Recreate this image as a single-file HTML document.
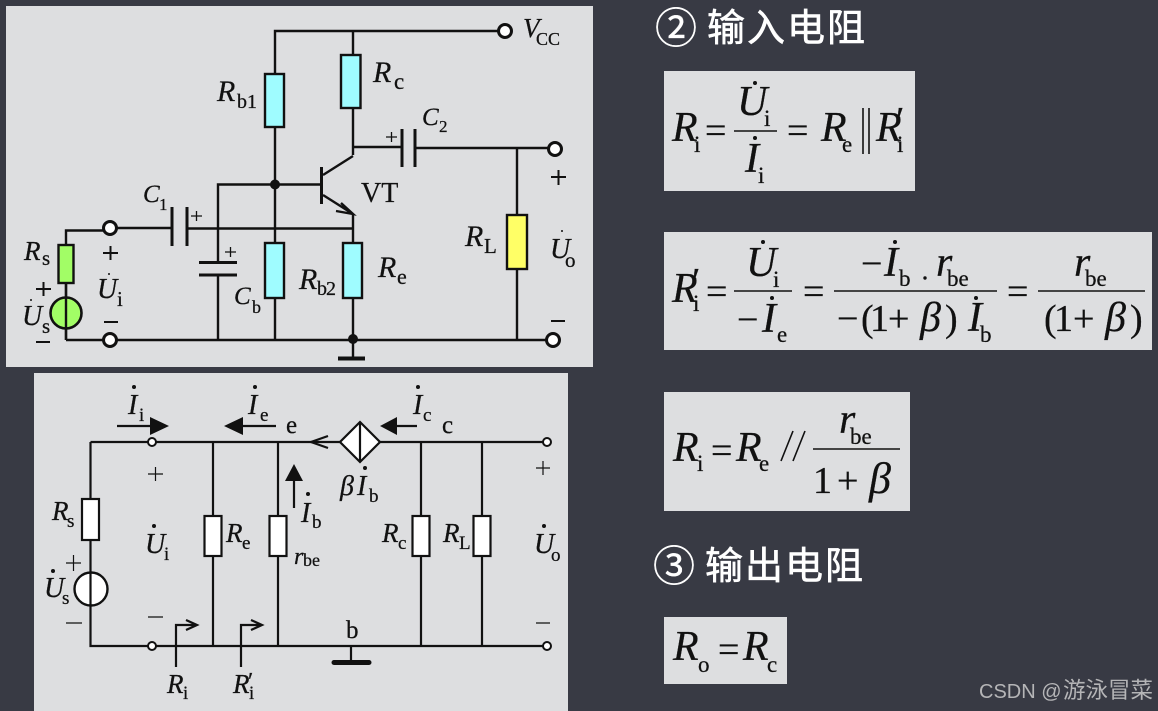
<!DOCTYPE html>
<html><head><meta charset="utf-8"><style>
html,body{margin:0;padding:0;background:#383a44;width:1158px;height:711px;overflow:hidden}
svg{display:block}
text{font-family:"Liberation Serif","Noto Serif CJK SC",serif;fill:#111;stroke:#111;stroke-width:.25}
.i{font-style:italic}
.l{stroke:#111;stroke-width:2.4;fill:none}
.t{stroke:#111;stroke-width:2.2;fill:none}
.n{stroke:#111;stroke-width:1.2;fill:none}
.f{stroke:#111;stroke-width:1.6;fill:none}
text.h{font-family:"Liberation Sans","Noto Sans CJK SC",sans-serif;fill:#fff;stroke:#fff;stroke-width:.6;font-size:38px;letter-spacing:2px}
text.c{font-family:"Liberation Sans","Noto Sans CJK SC",sans-serif;fill:#fff;stroke:#fff;stroke-width:.4;font-size:42px}
.k{font-size:38px}
.r{font-size:42px}
.s{font-size:23px}
text.w{font-family:"Liberation Sans","Noto Sans CJK SC",sans-serif;fill:#b5b5b7;stroke:none}
</style></head><body>
<svg width="1158" height="711" viewBox="0 0 1158 711" xmlns="http://www.w3.org/2000/svg">
<rect width="1158" height="711" fill="#383a44"/>
<rect x="6" y="6" width="587" height="361" fill="#dddee0"/>
<rect x="34" y="373" width="534" height="338" fill="#dddee0"/>
<rect x="664" y="71" width="251" height="120" fill="#dddee0"/>
<rect x="664" y="232" width="488" height="118" fill="#dddee0"/>
<rect x="664" y="392" width="246" height="119" fill="#dddee0"/>
<rect x="664" y="617" width="123" height="67" fill="#dddee0"/>

<!-- Panel 1 -->
<path class="l" d="M275 184V31H505M353 31V155M320 184.500H218V262M218 275V340M275 184V340M353 214V340M66 340H553M66 340V230.500H105M113 228H172M188 228.500H353M353 147H401M415 148H548M517 148V340M353 340V358"/>
<rect x="265" y="74" width="19" height="53" class="l" style="fill:#9ffcff"/>
<rect x="341" y="55" width="19.500" height="53" class="l" style="fill:#9ffcff"/>
<rect x="265" y="243" width="19" height="55" class="l" style="fill:#9ffcff"/>
<rect x="343" y="243" width="19" height="55" class="l" style="fill:#9ffcff"/>
<rect x="507" y="215" width="20" height="54" class="l" style="fill:#ffff66"/>
<rect x="58.500" y="245" width="15" height="38" class="l" style="fill:#a2fd66"/>
<circle cx="66" cy="313" r="15.500" fill="#a2fd66" stroke="#111" stroke-width="2.600"/>
<path class="l" d="M66 283V340"/>
<g fill="#fff" stroke="#111" stroke-width="3">
<circle cx="505" cy="31" r="6.500"/><circle cx="555" cy="149" r="6.500"/><circle cx="553" cy="340" r="6.500"/><circle cx="110" cy="228" r="6.500"/><circle cx="110" cy="340" r="6.500"/>
</g>
<circle cx="275" cy="184.500" r="5" fill="#111"/><circle cx="353" cy="339" r="5" fill="#111"/>
<path stroke="#111" stroke-width="3" fill="none" d="M172 207V246M187 207V246M402 129V167M415 129V167M199 262.500H237M199 275H237M321.500 167V204"/>
<path stroke="#111" stroke-width="4" fill="none" d="M338 358.500H365"/>
<path class="l" d="M323 175L353 156M323 195L353 214M336 211L353 214L341 203"/>
<path stroke="#111" stroke-width="2" fill="none" d="M551 177H566M558.500 170V185M551 321H565M36 289H51M43.500 282V296M36 342H50M103 253H118M110.500 246V260M104 322H118"/>
<path stroke="#111" stroke-width="1.300" fill="none" d="M191 216H202M196.500 211V221M225 252H236M230.500 247V257M386 137H397M391.500 132V142"/>

<text class="i" x="217" y="101" font-size="30">R</text><text x="237" y="108" font-size="20">b1</text>
<text class="i" x="373" y="82" font-size="30">R</text><text x="394" y="89" font-size="23">c</text>
<text class="i" x="523" y="37" font-size="27">V</text><text x="536" y="45" font-size="18">CC</text>
<text class="i" x="422" y="125" font-size="25">C</text><text x="439" y="132" font-size="17">2</text>
<text x="361" y="202" font-size="28">VT</text>
<text class="i" x="465" y="246" font-size="30">R</text><text x="484" y="253" font-size="21">L</text>
<text class="i" x="550" y="258" font-size="28">U</text><text x="565" y="267" font-size="21">o</text><circle cx="562" cy="231" r="1" fill="#111"/>
<text class="i" x="378" y="277" font-size="30">R</text><text x="397" y="284" font-size="22">e</text>
<text class="i" x="299" y="289" font-size="30">R</text><text x="317" y="295" font-size="20" letter-spacing="-1">b2</text>
<text class="i" x="143" y="202" font-size="25">C</text><text x="159" y="210" font-size="17">1</text>
<text class="i" x="234" y="304" font-size="25">C</text><text x="252" y="313" font-size="18">b</text>
<text class="i" x="24" y="260" font-size="27">R</text><text x="42" y="265" font-size="21">s</text>
<text class="i" x="22" y="325" font-size="28">U</text><text x="42" y="333" font-size="21">s</text><circle cx="31" cy="300" r="1" fill="#111"/>
<text class="i" x="97" y="298" font-size="28">U</text><text x="117" y="306" font-size="21">i</text><circle cx="109" cy="274" r="1" fill="#111"/>

<!-- Panel 2 -->
<path class="t" d="M90.500 442H340M380 442H543M90.500 442V646H543M213 442V646M278 442V646M421 442V646M482 442V646M351 646V660"/>
<rect x="82" y="499" width="17" height="41" class="t" style="fill:#fff"/>
<rect x="204.500" y="516" width="17" height="40" class="t" style="fill:#fff"/>
<rect x="269.500" y="516" width="17" height="40" class="t" style="fill:#fff"/>
<rect x="412.500" y="516" width="17" height="40" class="t" style="fill:#fff"/>
<rect x="473.500" y="516" width="17" height="40" class="t" style="fill:#fff"/>
<circle cx="91" cy="589" r="16.500" fill="#fff" stroke="#111" stroke-width="2.400"/>
<path class="t" d="M90.500 572V606"/>
<path d="M360 422L380 442L360 462L340 442Z" class="t" style="fill:#fff"/>
<path class="t" d="M360 422V462M328 436L311 442L328 448"/>
<g fill="#fff" stroke="#111" stroke-width="2"><circle cx="152" cy="442" r="4"/><circle cx="152" cy="646" r="4"/><circle cx="547" cy="442" r="4"/><circle cx="547" cy="646" r="4"/></g>
<path stroke="#111" stroke-width="5" stroke-linecap="round" d="M334 662.500H369"/>
<path class="t" d="M117 426H152M276 426H240M417 426H395M294 508V478"/>
<path fill="#111" d="M150 417L169 426L150 435ZM243 417L224 426L243 435ZM397 417L380 426L397 435ZM285 481L294 464L303 481Z"/>
<path class="t" d="M176 667V625H196M241 667V625H261M186 620L197 625L186 630M251 620L262 625L251 630"/>
<path class="n" d="M148 474H163M155.500 467V481M148 617H163M66 563H81M73.500 555V571M66 623H82M536 468H550M543 461V475M536 623H550"/>

<g fill="#111">
<circle cx="134" cy="387" r="2"/><circle cx="255" cy="387" r="2"/><circle cx="154" cy="526" r="2"/><circle cx="53" cy="571" r="2"/><circle cx="308" cy="494" r="2"/><circle cx="365" cy="468" r="2"/><circle cx="418" cy="387" r="2"/><circle cx="544" cy="526" r="2"/>
</g>
<text class="i" x="128" y="414" font-size="28">I</text><text x="139" y="421" font-size="19">i</text>
<text class="i" x="248" y="414" font-size="28">I</text><text x="260" y="421" font-size="19">e</text>
<text x="286" y="433" font-size="25">e</text>
<text class="i" x="145" y="553" font-size="28">U</text><text x="164" y="560" font-size="19">i</text>
<text class="i" x="52" y="520" font-size="27">R</text><text x="67" y="527" font-size="19">s</text>
<text class="i" x="44" y="597" font-size="28">U</text><text x="62" y="604" font-size="19">s</text>
<text class="i" x="226" y="542" font-size="27">R</text><text x="242" y="549" font-size="19">e</text>
<text class="i" x="167" y="693" font-size="27">R</text><text x="183" y="699" font-size="19">i</text>
<text class="i" x="233" y="693" font-size="27">R</text><text x="249" y="699" font-size="19">i</text><text x="248" y="689" font-size="24">′</text>
<text class="i" x="301" y="522" font-size="28">I</text><text x="312" y="528" font-size="19">b</text>
<text class="i" x="294" y="564" font-size="24">r</text><text x="303" y="566" font-size="18">be</text>
<text class="i" x="340" y="495" font-size="28">β</text><text class="i" x="357" y="495" font-size="28">I</text><text x="369" y="502" font-size="19">b</text>
<text class="i" x="413" y="414" font-size="28">I</text><text x="423" y="421" font-size="19">c</text>
<text x="442" y="433" font-size="25">c</text>
<text class="i" x="382" y="542" font-size="27">R</text><text x="398" y="549" font-size="19">c</text>
<text class="i" x="443" y="542" font-size="27">R</text><text x="459" y="549" font-size="19">L</text>
<text class="i" x="534" y="553" font-size="28">U</text><text x="551" y="561" font-size="19">o</text>
<text x="346" y="638" font-size="25">b</text>

<!-- Headings -->
<text class="c" x="655" y="43">②</text><text class="h" x="707" y="41">输入电阻</text>
<text class="c" x="653" y="581">③</text><text class="h" x="705" y="579">输出电阻</text>
<text class="w" x="979" y="698" font-size="20">CSDN @</text><text class="w" x="1063" y="698" font-size="22.500">游泳冒菜</text>

<!-- Formula 1 -->
<g fill="#111"><circle cx="755" cy="83" r="2"/><circle cx="755" cy="138" r="2"/><circle cx="763" cy="242" r="2"/><circle cx="772" cy="298" r="2"/><circle cx="895" cy="242" r="2"/><circle cx="925" cy="278" r="1.700"/><circle cx="976" cy="298" r="2"/></g>
<text class="i r" x="672" y="141">R</text><text class="s" x="694" y="152">i</text>
<text class="k" x="705" y="143">=</text>
<path class="f" d="M734 131H777"/>
<text class="i r" x="737" y="115">U</text><text class="s" x="764" y="126">i</text>
<text class="i r" x="745" y="172">I</text><text class="s" x="758" y="183">i</text>
<text class="k" x="787" y="143">=</text>
<text class="i r" x="821" y="141">R</text><text class="s" x="842" y="152">e</text>
<path class="f" d="M863 108V154M869 108V154"/>
<text class="i r" x="876" y="141">R</text><text class="s" x="897" y="152">i</text><text class="k" x="896" y="133">′</text>

<!-- Formula 2 -->
<text class="i r" x="672" y="302">R</text><text class="s" x="693" y="311">i</text><text class="k" x="692" y="294">′</text>
<text class="k" x="706" y="304">=</text>
<path class="f" d="M734 291H792M834 291H997M1038 291H1145"/>
<text class="i r" x="746" y="276">U</text><text class="s" x="773" y="287">i</text>
<text class="k" x="737" y="332">−</text><text class="i r" x="762" y="332">I</text><text class="s" x="777" y="342">e</text>
<text class="k" x="803" y="304">=</text>
<text class="k" x="861" y="276">−</text><text class="i r" x="884" y="276">I</text><text class="s" x="899" y="286">b</text>
<text class="i r" x="936" y="276">r</text><text class="s" x="947" y="286">be</text>
<text class="k" x="837" y="331">−</text><text class="k" x="861" y="331">(</text><text class="k" x="870" y="331">1</text><text class="k" x="888" y="331">+</text><text class="i" x="920" y="331" font-size="42">β</text><text class="k" x="945" y="331">)</text>
<text class="i r" x="968" y="331">I</text><text class="s" x="980" y="342">b</text>
<text class="k" x="1007" y="304">=</text>
<text class="i r" x="1074" y="276">r</text><text class="s" x="1085" y="286">be</text>
<text class="k" x="1044" y="331">(</text><text class="k" x="1054" y="331">1</text><text class="k" x="1073" y="331">+</text><text class="i" x="1105" y="331" font-size="42">β</text><text class="k" x="1130" y="331">)</text>

<!-- Formula 3 -->
<text class="i r" x="673" y="461">R</text><text class="s" x="697" y="471">i</text>
<text class="k" x="711" y="463">=</text>
<text class="i r" x="736" y="461">R</text><text class="s" x="759" y="471">e</text>
<path class="f" d="M781 461L793 431M793 461L805 431"/>
<path class="f" d="M813 449H900"/>
<text class="i r" x="839" y="433">r</text><text class="s" x="850" y="444">be</text>
<text class="k" x="813" y="493" font-size="40">1</text><text class="k" x="837" y="493">+</text><text class="i" x="869" y="493" font-size="44">β</text>

<!-- Formula 4 -->
<text class="i r" x="673" y="660">R</text><text class="s" x="698" y="672">o</text>
<text class="k" x="718" y="662">=</text>
<text class="i r" x="743" y="660">R</text><text class="s" x="767" y="672">c</text>
</svg>
</body></html>
